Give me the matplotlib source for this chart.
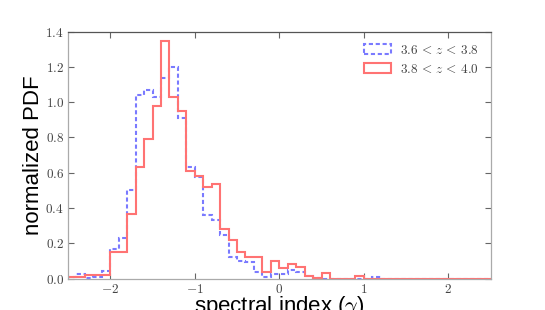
import numpy as np
import matplotlib
matplotlib.use("Agg")
import matplotlib.pyplot as plt

plt.rcParams['mathtext.fontset'] = 'cm'

edges = np.round(np.arange(-2.5, 2.5001, 0.1), 2)

red_vals = [0.01, 0.01, 0.02, 0.02, 0.02, 0.15, 0.15, 0.365, 0.63, 0.79,
            0.98, 1.35, 1.03, 0.95, 0.61, 0.58, 0.52, 0.535, 0.28, 0.217,
            0.15, 0.12, 0.12, 0.038, 0.098, 0.062, 0.081, 0.066, 0.015, 0.004,
            0.032, 0.0, 0.0, 0.0, 0.015] + [0.0] * 15

blue_vals = [0.01, 0.025, 0.005, 0.01, 0.045, 0.17, 0.23, 0.50, 1.04, 1.07,
             1.03, 1.14, 1.20, 0.91, 0.63, 0.577, 0.36, 0.33, 0.246, 0.122,
             0.10, 0.094, 0.038, 0.01, 0.025, 0.025, 0.047, 0.038, 0.013, 0.004,
             0.0, 0.0, 0.0, 0.0, 0.0, 0.0, 0.008] + [0.0] * 13

labels = [r'$3.6\,<\,z\,<\,3.8$', r'$3.8\,<\,z\,<\,4.0$']
xticks = [-2, -1, 0, 1, 2]
yticks = [0.0, 0.2, 0.4, 0.6, 0.8, 1.0, 1.2, 1.4]

fig = plt.figure(figsize=(5.45, 3.10), dpi=100)
ax = fig.add_axes([0.1248, 0.1016, 0.7752, 0.7961])

ax.hist(edges[:-1], bins=edges, weights=blue_vals, histtype='step',
        color=(0.48, 0.48, 1.0), linewidth=1.5, linestyle=(0, (2.0, 1.3)),
        label=labels[0])
ax.hist(edges[:-1], bins=edges, weights=red_vals, histtype='step',
        color=(1.0, 0.45, 0.45), linewidth=1.5, label=labels[1])

ax.set_xlim(-2.5, 2.5)
ax.set_ylim(0, 1.4)
ax.set_xticks(xticks)
ax.set_xticklabels([r'$%d$' % t if t >= 0 else r'$-%d$' % abs(t) for t in xticks])
ax.set_yticks(yticks)
ax.set_yticklabels([r'$%.1f$' % t for t in yticks])
ax.tick_params(direction='in', length=4, width=0.8, top=True, right=True,
               labelsize=9.5, colors='#666666', labelcolor='#444444', pad=3)

for side in ['left', 'right', 'bottom']:
    ax.spines[side].set_color('#aaaaaa')
ax.spines['top'].set_color('#555555')
for s in ax.spines.values():
    s.set_linewidth(0.9)

ax.set_ylabel('normalized PDF', fontsize=16, family='Liberation Sans', labelpad=1)
ax.set_xlabel(r'spectral index ($\gamma$)', fontsize=16, family='Liberation Sans', labelpad=-1)

leg = ax.legend(loc='upper right', frameon=False, fontsize=9.5,
                handlelength=2.0, handleheight=0.7, borderaxespad=0.5,
                labelspacing=0.45, handletextpad=0.7)
for t in leg.get_texts():
    t.set_color('#444444')

fig.savefig('out.png', dpi=100)
